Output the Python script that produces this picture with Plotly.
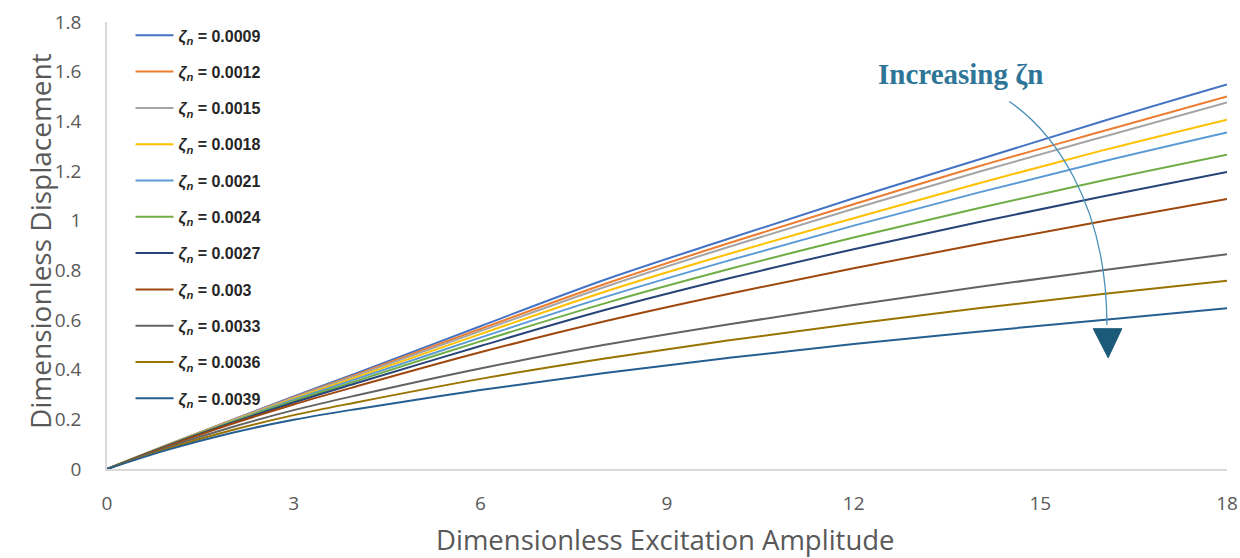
import plotly.graph_objects as go

x_vals = [0, 1, 2, 3, 4, 6, 8, 10, 12, 14, 16, 18]

zeta_labels = ["0.0009", "0.0012", "0.0015", "0.0018", "0.0021", "0.0024",
               "0.0027", "0.003", "0.0033", "0.0036", "0.0039"]

y_0009 = [0, 0.100, 0.197, 0.292, 0.385, 0.575, 0.762, 0.928, 1.090, 1.245, 1.400, 1.548]
y_0012 = [0, 0.100, 0.196, 0.289, 0.380, 0.564, 0.745, 0.910, 1.066, 1.218, 1.360, 1.500]
y_0015 = [0, 0.100, 0.195, 0.287, 0.376, 0.555, 0.733, 0.895, 1.048, 1.196, 1.337, 1.476]
y_0018 = [0, 0.099, 0.193, 0.283, 0.369, 0.543, 0.714, 0.867, 1.010, 1.150, 1.283, 1.407]
y_0021 = [0, 0.098, 0.191, 0.279, 0.362, 0.529, 0.692, 0.840, 0.980, 1.113, 1.238, 1.355]
y_0024 = [0, 0.097, 0.188, 0.274, 0.354, 0.514, 0.667, 0.805, 0.932, 1.050, 1.162, 1.266]
y_0027 = [0, 0.096, 0.185, 0.268, 0.345, 0.495, 0.640, 0.768, 0.885, 0.994, 1.097, 1.196]
y_0030 = [0, 0.094, 0.181, 0.260, 0.332, 0.470, 0.595, 0.706, 0.808, 0.905, 0.998, 1.087]
y_0033 = [0, 0.089, 0.168, 0.237, 0.296, 0.405, 0.500, 0.583, 0.660, 0.733, 0.800, 0.865]
y_0036 = [0, 0.084, 0.156, 0.217, 0.268, 0.363, 0.445, 0.518, 0.585, 0.647, 0.705, 0.758]
y_0039 = [0, 0.079, 0.145, 0.198, 0.241, 0.318, 0.387, 0.448, 0.503, 0.553, 0.600, 0.647]

series = [y_0009, y_0012, y_0015, y_0018, y_0021, y_0024,
          y_0027, y_0030, y_0033, y_0036, y_0039]

colors = ["#4472C4", "#ED7D31", "#A5A5A5", "#FFC000", "#5B9BD5", "#70AD47",
          "#264478", "#9E480E", "#636363", "#997300", "#255E91"]

x_ticks = [0, 3, 6, 9, 12, 15, 18]
y_ticks = [0, 0.2, 0.4, 0.6, 0.8, 1, 1.2, 1.4, 1.6, 1.8]
y_tick_text = ["0", "0.2", "0.4", "0.6", "0.8", "1", "1.2", "1.4", "1.6", "1.8"]

fig = go.Figure()
for i, (lab, ys, c) in enumerate(zip(zeta_labels, series, colors)):
    fig.add_trace(go.Scatter(
        x=x_vals, y=ys, mode="lines",
        line=dict(color=c, width=2, shape="spline", smoothing=1.0),
        name="<i>ζ<sub>n</sub></i> = " + lab,
        legendgroup=str(i),
    ))

grey = "#595959"
fig.update_layout(
    width=1240, height=558,
    margin=dict(l=107, r=13, t=22, b=89),
    paper_bgcolor="white", plot_bgcolor="white",
    showlegend=True,
    legend=dict(
        x=0.021, y=1.008, xanchor="left", yanchor="top", maxheight=540,
        font=dict(family="Liberation Sans", size=16, color="#262626", weight="bold"),
        bgcolor="rgba(0,0,0,0)", tracegroupgap=12.5, itemwidth=38,
    ),
    xaxis=dict(
        range=[0, 18], tickvals=x_ticks, showgrid=False, zeroline=False,
        showline=True, linecolor="#D9D9D9", linewidth=1.5, automargin=False,
        ticks="", ticklabelstandoff=16,
        tickfont=dict(family="Open Sans", size=19, color=grey),
    ),
    yaxis=dict(
        range=[0, 1.8], tickvals=y_ticks, ticktext=y_tick_text, showgrid=False,
        zeroline=False, showline=True, linecolor="#D9D9D9", linewidth=1.5,
        automargin=False, ticks="", ticklabelstandoff=20,
        tickfont=dict(family="Open Sans", size=19, color=grey),
    ),
)

# axis titles
fig.add_annotation(
    x=0.499, y=-0.158, xref="paper", yref="paper", xanchor="center", yanchor="middle",
    text="Dimensionless Excitation Amplitude", showarrow=False,
    font=dict(family="Open Sans", size=27.5, color=grey),
)
fig.add_annotation(
    x=-0.0598, y=0.510, xref="paper", yref="paper", xanchor="center", yanchor="middle",
    text="Dimensionless Displacement", showarrow=False, textangle=-90,
    font=dict(family="Open Sans", size=28, color=grey),
)

# "Increasing ζn" annotation with curved arrow
fig.add_annotation(
    x=13.71, y=1.589, xref="x", yref="y", text="<b>Increasing ζn</b>",
    showarrow=False, font=dict(family="Liberation Serif", size=29, color="#2E7597"),
)
fig.add_shape(
    type="path", xref="x", yref="y",
    path="M 14.50,1.480 C 15.16,1.367 16.07,1.085 16.07,0.58",
    line=dict(color="#4A90B8", width=1.3),
)
fig.add_shape(
    type="path", xref="x", yref="y",
    path="M 15.85,0.565 L 16.31,0.565 L 16.09,0.448 Z",
    fillcolor="#1B5A78", line=dict(color="#1B5A78", width=1),
)

fig.write_html("out.html")
